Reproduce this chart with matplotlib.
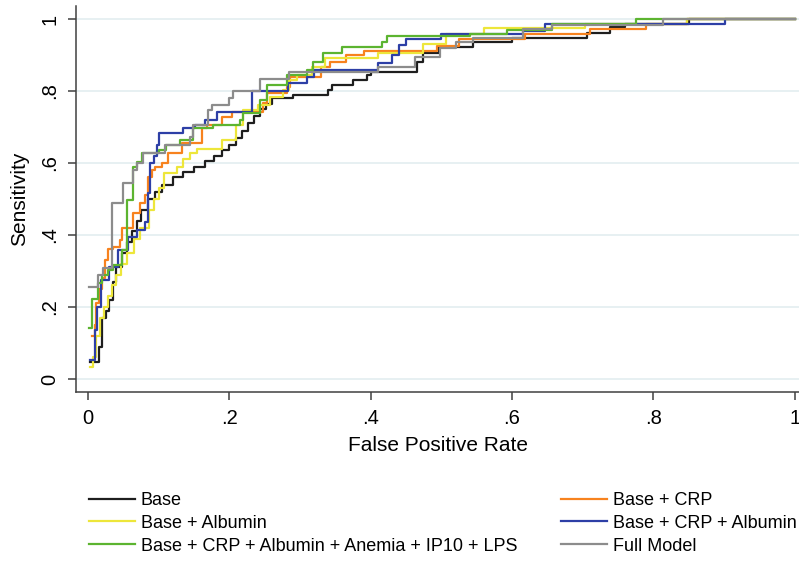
import matplotlib
matplotlib.use('Agg')
import matplotlib.pyplot as plt

plt.rcParams['font.family'] = ['Liberation Sans', 'DejaVu Sans']

# ROC curves: (fpr, sensitivity) at the left end of each flat run
base_fpr = [0.003, 0.015, 0.02, 0.025, 0.03, 0.035, 0.04, 0.048, 0.055, 0.062, 0.07, 0.075,
            0.085, 0.095, 0.105, 0.12, 0.135, 0.15, 0.165, 0.178, 0.19, 0.2, 0.21, 0.218,
            0.226, 0.235, 0.243, 0.252, 0.26, 0.29, 0.34, 0.345, 0.375, 0.395, 0.40, 0.465,
            0.474, 0.497, 0.545, 0.6, 0.706, 0.738, 0.76, 0.85, 1.0]
base_tpr = [0.047, 0.09, 0.17, 0.19, 0.22, 0.27, 0.31, 0.35, 0.38, 0.41, 0.44, 0.47,
            0.5, 0.52, 0.54, 0.56, 0.575, 0.59, 0.605, 0.62, 0.635, 0.65, 0.67, 0.69,
            0.71, 0.73, 0.75, 0.765, 0.78, 0.789, 0.803, 0.817, 0.83, 0.844, 0.853, 0.88,
            0.905, 0.922, 0.936, 0.947, 0.96, 0.977, 0.986, 1.0, 1.0]

crp_fpr = [0.006, 0.01, 0.012, 0.015, 0.02, 0.024, 0.028, 0.035, 0.045, 0.048, 0.064, 0.074,
           0.081, 0.085, 0.09, 0.095, 0.104, 0.113, 0.133, 0.161, 0.168, 0.19, 0.204, 0.248,
           0.253, 0.281, 0.286, 0.33, 0.343, 0.365, 0.39, 0.494, 0.525, 0.618, 0.71, 0.79,
           0.847, 1.0]
crp_tpr = [0.12, 0.15, 0.21, 0.25, 0.28, 0.33, 0.36, 0.367, 0.386, 0.42, 0.46, 0.49,
           0.51, 0.56, 0.58, 0.59, 0.6, 0.628, 0.656, 0.697, 0.706, 0.728, 0.742, 0.767,
           0.794, 0.81, 0.84, 0.867, 0.88, 0.9, 0.911, 0.925, 0.944, 0.958, 0.972, 0.986,
           1.0, 1.0]

alb_fpr = [0.003, 0.007, 0.012, 0.017, 0.022, 0.028, 0.034, 0.04, 0.047, 0.055, 0.065, 0.074,
           0.086, 0.094, 0.1, 0.107, 0.126, 0.135, 0.144, 0.154, 0.19, 0.21, 0.22, 0.24,
           0.257, 0.276, 0.285, 0.295, 0.317, 0.335, 0.41, 0.474, 0.507, 0.56, 0.703, 0.847,
           1.0]
alb_tpr = [0.033, 0.06, 0.12, 0.17, 0.2, 0.23, 0.26, 0.29, 0.32, 0.35, 0.39, 0.42,
           0.47, 0.5, 0.53, 0.572, 0.589, 0.61, 0.628, 0.64, 0.664, 0.706, 0.747, 0.761,
           0.783, 0.803, 0.83, 0.844, 0.867, 0.892, 0.905, 0.931, 0.958, 0.975, 0.986, 1.0,
           1.0]

crp_alb_fpr = [0.003, 0.01, 0.013, 0.018, 0.03, 0.042, 0.056, 0.069, 0.08, 0.085, 0.088, 0.094,
               0.098, 0.1, 0.134, 0.151, 0.165, 0.182, 0.232, 0.283, 0.31, 0.32, 0.41, 0.43,
               0.44, 0.45, 0.5, 0.616, 0.646, 0.902, 1.0]
crp_alb_tpr = [0.053, 0.136, 0.2, 0.275, 0.31, 0.358, 0.394, 0.414, 0.436, 0.517, 0.6, 0.62,
               0.65, 0.683, 0.697, 0.706, 0.72, 0.742, 0.8, 0.822, 0.84, 0.858, 0.877, 0.9,
               0.928, 0.944, 0.958, 0.967, 0.986, 1.0, 1.0]

lps_fpr = [0.001, 0.006, 0.014, 0.02, 0.028, 0.036, 0.048, 0.055, 0.063, 0.069, 0.076, 0.1,
           0.11, 0.13, 0.149, 0.177, 0.215, 0.22, 0.243, 0.253, 0.281, 0.31, 0.318, 0.332,
           0.36, 0.416, 0.423, 0.54, 0.593, 0.656, 0.776, 1.0]
lps_tpr = [0.142, 0.222, 0.267, 0.29, 0.303, 0.317, 0.358, 0.497, 0.589, 0.603, 0.628, 0.636,
           0.65, 0.664, 0.697, 0.706, 0.72, 0.739, 0.775, 0.817, 0.844, 0.858, 0.88, 0.905,
           0.922, 0.936, 0.953, 0.958, 0.97, 0.986, 1.0, 1.0]

full_fpr = [0.001, 0.014, 0.021, 0.034, 0.05, 0.064, 0.069, 0.078, 0.109, 0.144, 0.148, 0.17,
            0.175, 0.2, 0.205, 0.243, 0.285, 0.41, 0.463, 0.498, 0.52, 0.545, 0.616, 0.656,
            0.813, 1.0]
full_tpr = [0.256, 0.289, 0.308, 0.489, 0.544, 0.58, 0.6, 0.628, 0.65, 0.672, 0.706, 0.747,
            0.761, 0.78, 0.8, 0.833, 0.853, 0.867, 0.894, 0.92, 0.936, 0.947, 0.972, 0.983,
            1.0, 1.0]

labels = ['Base', 'Base + CRP', 'Base + Albumin', 'Base + CRP + Albumin',
          'Base + CRP + Albumin + Anemia + IP10 + LPS', 'Full Model']
colors = ['#1e1e1e', '#f7821e', '#ede63a', '#2d3fa6', '#5cb430', '#8c8c8c']
curves = [(base_fpr, base_tpr), (crp_fpr, crp_tpr), (alb_fpr, alb_tpr),
          (crp_alb_fpr, crp_alb_tpr), (lps_fpr, lps_tpr), (full_fpr, full_tpr)]

ticks = [0, 0.2, 0.4, 0.6, 0.8, 1]
tick_labels = ['0', '.2', '.4', '.6', '.8', '1']


def format_ax(ax):
    ax.set_xlim(-0.017, 1.006)
    ax.set_ylim(-0.036, 1.036)
    ax.set_xticks(ticks)
    ax.set_xticklabels(tick_labels)
    ax.set_yticks(ticks)
    ax.set_yticklabels(tick_labels, rotation=90, va='center')
    ax.yaxis.grid(True, color='#e7f0f2', linewidth=1.4)
    ax.set_axisbelow(True)
    for side in ['top', 'right']:
        ax.spines[side].set_visible(False)
    for side in ['left', 'bottom']:
        ax.spines[side].set_color('#404040')
        ax.spines[side].set_linewidth(1.1)
    ax.tick_params(length=6, width=1.1, color='#404040', labelsize=14.5, pad=6)
    ax.set_xlabel('False Positive Rate', fontsize=15, labelpad=6)
    ax.set_ylabel('Sensitivity', fontsize=15, labelpad=8)


def main():
    fig = plt.figure(figsize=(7.99, 5.71), dpi=100)
    ax = fig.add_axes([76 / 799, 1 - 392 / 571, 723 / 799, 386 / 571])
    handles = []
    for (x, y), c, lab in zip(curves, colors, labels):
        h, = ax.plot(x, y, drawstyle='steps-post', color=c, linewidth=1.6, label=lab)
        handles.append(h)
    format_ax(ax)

    # legend filled column-wise: left column then right column
    order = [0, 2, 4, 1, 3, 5]
    fig.legend([handles[i] for i in order], [labels[i] for i in order], ncol=2,
               loc='upper left', bbox_to_anchor=(89 / 799, 1 - 492 / 571),
               frameon=False, fontsize=13, handlelength=2.55, handletextpad=0.33,
               labelspacing=0.32, columnspacing=2.4, borderpad=0, borderaxespad=0)
    fig.savefig('out.png', dpi=100)


if __name__ == '__main__':
    main()
